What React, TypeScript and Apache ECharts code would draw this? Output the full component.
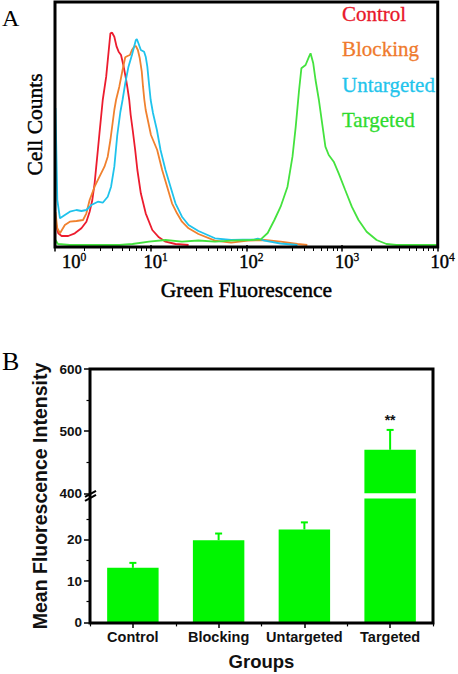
import React, { useEffect, useRef } from 'react';
import * as echarts from 'echarts';

// ---------- Panel A: flow cytometry histograms ----------
// x = log10(green fluorescence), y = relative cell counts
const controlHist: number[][] = [
  [0.005, 23], [0.034, 11.7], [0.069, 9], [0.138, 9], [0.207, 11.7], [0.276, 16.7], [0.328, 23.3],
  [0.362, 33.3], [0.39, 45], [0.414, 61.7], [0.431, 78.3], [0.448, 95], [0.465, 112], [0.499, 145],
  [0.535, 168.3], [0.562, 195], [0.579, 211.7], [0.597, 212.3], [0.62, 208.3], [0.644, 198.3],
  [0.665, 193.3], [0.69, 190], [0.714, 180], [0.741, 166.7], [0.758, 156.7], [0.776, 145],
  [0.791, 130], [0.812, 115], [0.838, 95], [0.861, 75], [0.897, 51.7], [0.948, 31.7], [1.017, 15],
  [1.086, 7.7], [1.155, 3.3], [1.259, 1], [1.396, 0],
];
const blockingHist: number[][] = [
  [0.005, 33], [0.024, 16.7], [0.052, 11.7], [0.103, 20], [0.155, 23.3], [0.224, 24], [0.293, 25],
  [0.328, 31.7], [0.362, 45], [0.414, 58.3], [0.465, 68.3], [0.517, 78.3], [0.551, 88.3], [0.579, 105],
  [0.62, 135], [0.638, 145], [0.672, 158.3], [0.706, 175], [0.734, 187.7], [0.758, 189], [0.783, 190],
  [0.804, 195], [0.827, 198.3], [0.845, 199], [0.866, 195], [0.886, 186.7], [0.907, 173.3],
  [0.92, 158.3], [0.934, 145], [0.948, 135], [1.003, 110], [1.068, 95], [1.12, 75], [1.172, 58.3],
  [1.223, 41.7], [1.275, 31.7], [1.327, 23.3], [1.396, 16.7], [1.499, 11], [1.672, 4.3], [1.841, 2.3],
  [2.017, 4.3], [2.189, 5], [2.358, 3.3], [2.534, 1], [2.637, 0],
];
const untargetedHist: number[][] = [
  [0.005, 137], [0.016, 85], [0.024, 45], [0.052, 26.7], [0.103, 30], [0.155, 33.3], [0.224, 35],
  [0.276, 34], [0.328, 35], [0.38, 40], [0.448, 43.3], [0.499, 42.3], [0.551, 48.3], [0.586, 58.3],
  [0.62, 78.3], [0.651, 110], [0.683, 133], [0.706, 145], [0.734, 161.7], [0.768, 178.3], [0.804, 190],
  [0.827, 198.3], [0.845, 205], [0.855, 206], [0.872, 201.7], [0.897, 195], [0.931, 193.3],
  [0.948, 188.3], [0.965, 178.3], [0.982, 161.7], [1.0, 145], [1.024, 132], [1.065, 115], [1.103, 95],
  [1.155, 75], [1.207, 58.3], [1.259, 41.7], [1.327, 28.3], [1.396, 20], [1.499, 14], [1.672, 6.7],
  [1.841, 5], [2.086, 5.7], [2.12, 6.5], [2.189, 4.3], [2.358, 1.5], [2.534, 0],
];
const targetedHist: number[][] = [
  [0.005, 5], [0.031, 1], [0.155, 0], [0.672, 0], [0.81, 1], [0.982, 3.3], [1.155, 5], [1.327, 3.3],
  [1.499, 4.5], [1.672, 3.3], [1.841, 4.3], [2.048, 5], [2.151, 5.7], [2.223, 12], [2.293, 25],
  [2.358, 38.3], [2.43, 58.3], [2.482, 88.3], [2.516, 118.3], [2.551, 155], [2.575, 176.7],
  [2.619, 180], [2.655, 188.3], [2.671, 191.7], [2.699, 181.7], [2.723, 165], [2.758, 145],
  [2.792, 121.7], [2.826, 98.3], [2.861, 90], [2.913, 83.3], [2.965, 71.7], [3.033, 55], [3.102, 38.3],
  [3.172, 25], [3.257, 13.3], [3.361, 5], [3.464, 1], [3.568, 0], [3.99, 0],
];
const histNames = ['Control', 'Blocking', 'Untargeted', 'Targeted'];
const histColors = ['#ec1c2e', '#f0812e', '#1fc3ec', '#44e23e'];
const legendColors = ['#e8182a', '#ef7a2c', '#22c4ec', '#2edb2e'];
const decadeExponents = [0, 1, 2, 3, 4];

// ---------- Panel B: mean fluorescence intensity ----------
const groups = ['Control', 'Blocking', 'Untargeted', 'Targeted'];
const mfi = [13.2, 19.9, 22.5, 470];
const mfiErr = [1.2, 1.6, 1.7, 32];
const significance = ['', '', '', '**'];
const lowerTicks = [0, 10, 20];
const upperTicks = [400, 500, 600];
const LOWER_MAX = 30;
const UPPER_MIN = 400;
const UPPER_MAX = 600;

// ---------- layout ----------
const SERIF = '"Liberation Serif", "Times New Roman", serif';
const SANS = '"Liberation Sans", Arial, sans-serif';
const A_LEFT = 55, A_TOP = 2, A_W = 385, A_H = 245;
const B_LEFT = 90, B_TOP = 369, B_W = 343, B_UPPER_H = 124.3, B_LOWER_TOP = 498.4, B_LOWER_H = 124;
const B_H = B_LOWER_TOP + B_LOWER_H - B_TOP + 0.6;
const BREAK_Y = (B_TOP + B_UPPER_H + B_LOWER_TOP) / 2;
const BAR_COLOR = '#00f500';

export default function App() {
  const ref = useRef<HTMLDivElement>(null);
  useEffect(() => {
    if (!ref.current) return;
    const chart = echarts.init(ref.current, undefined, { renderer: 'svg' });

    const minorTickValues: number[] = [];
    for (let n = decadeExponents[0]; n < decadeExponents[decadeExponents.length - 1]; n++) {
      for (let k = 2; k <= 9; k++) minorTickValues.push(n + Math.log10(k));
    }

    const tickLine = { color: '#000', width: 1.5 };
    const bLabel = { fontFamily: SANS, fontWeight: 'bold' as const, fontSize: 13.5, color: '#111' };
    const serifHeavy = { fontFamily: SERIF, color: '#000', textBorderColor: '#000', textBorderWidth: 0.45 };

    const errorRender = (params: any, api: any) => {
      const idx = api.value(0);
      const v = api.value(1);
      const e = api.value(2);
      const base = api.coord([idx, v]);
      const top = api.coord([idx, v + e]);
      const children: any[] = [
        { type: 'line', shape: { x1: base[0], y1: base[1], x2: top[0], y2: top[1] }, style: { stroke: BAR_COLOR, lineWidth: 2 } },
        { type: 'line', shape: { x1: top[0] - 3.5, y1: top[1], x2: top[0] + 3.5, y2: top[1] }, style: { stroke: BAR_COLOR, lineWidth: 2 } },
      ];
      const sig = significance[idx];
      if (sig) {
        children.push({
          type: 'text', x: top[0], y: top[1] - 10,
          style: { text: sig, fontFamily: SANS, fontWeight: 'bold', fontSize: 14, fill: '#111', align: 'center', verticalAlign: 'middle' },
        });
      }
      return { type: 'group', children };
    };

    const errData = mfi.map((v, i) => [i, v, mfiErr[i]]);

    const option: any = {
      animation: false,
      backgroundColor: '#fff',
      legend: {
        orient: 'vertical', left: 337, top: 3, padding: 0, icon: 'none', itemWidth: 0, itemHeight: 21, itemGap: 14.3,
        selectedMode: false,
        textStyle: { fontFamily: SERIF, fontSize: 21, lineHeight: 21 },
        data: histNames.map((n, i) => ({
          name: n,
          textStyle: { color: legendColors[i], textBorderColor: legendColors[i], textBorderWidth: 0.3 },
        })),
      },
      grid: [
        { left: A_LEFT, top: A_TOP, width: A_W, height: A_H, show: true, borderColor: '#000', borderWidth: 3, backgroundColor: 'transparent', z: 10 },
        { left: B_LEFT, top: B_TOP, width: B_W, height: B_UPPER_H },
        { left: B_LEFT, top: B_LOWER_TOP, width: B_W, height: B_LOWER_H },
        { left: B_LEFT, top: B_TOP, width: B_W, height: B_H, show: true, borderColor: '#000', borderWidth: 3, backgroundColor: 'transparent', z: 10 },
      ],
      xAxis: [
        {
          gridIndex: 0, type: 'value', position: 'bottom', min: 0, max: 4, interval: 1,
          axisLine: { show: false }, splitLine: { show: false },
          axisTick: { show: true, length: 6.5, lineStyle: tickLine },
          axisLabel: {
            margin: 4, alignMinLabel: 'left',
            formatter: (v: number) => (v === 0 ? `{f|10}{s|${v}}` : `{b|10}{s|${Math.round(v)}}`),
            rich: {
              b: { ...serifHeavy, fontSize: 18.5, lineHeight: 20, verticalAlign: 'bottom', padding: [0, 0, 0, 10] },
              f: { ...serifHeavy, fontSize: 18.5, lineHeight: 20, verticalAlign: 'bottom', padding: [0, 0, 0, 7] },
              s: { ...serifHeavy, textBorderWidth: 0.3, fontSize: 11.5, lineHeight: 12, verticalAlign: 'top' },
            },
          },
          name: 'Green Fluorescence', nameLocation: 'middle', nameGap: 32,
          nameTextStyle: { ...serifHeavy, fontSize: 21.5 },
        },
        {
          gridIndex: 0, type: 'value', position: 'bottom', min: 0, max: 4,
          axisLine: { show: false }, splitLine: { show: false }, axisLabel: { show: false },
          axisTick: { show: true, length: 4, customValues: minorTickValues, lineStyle: { color: '#000', width: 1 } },
        },
        { gridIndex: 1, type: 'category', data: groups, show: false },
        {
          gridIndex: 2, type: 'category', position: 'bottom', data: groups,
          axisLine: { show: false },
          axisTick: { show: true, alignWithLabel: true, length: 5.5, lineStyle: tickLine },
          axisLabel: { ...bLabel, fontSize: 14.5, margin: 7, interval: 0 },
          name: 'Groups', nameLocation: 'middle', nameGap: 30,
          nameTextStyle: { fontFamily: SANS, fontWeight: 'bold', fontSize: 18.5, color: '#111' },
        },
        {
          gridIndex: 2, type: 'category', position: 'bottom', data: groups,
          axisLine: { show: false }, axisLabel: { show: false },
          axisTick: { show: true, length: 4, interval: 0, lineStyle: { color: '#000', width: 1.2 } },
        },
        { gridIndex: 3, type: 'value', show: false },
      ],
      yAxis: [
        {
          gridIndex: 0, type: 'value', min: -2, max: 243,
          axisLine: { show: false }, axisTick: { show: false }, axisLabel: { show: false }, splitLine: { show: false },
          name: 'Cell Counts', nameLocation: 'middle', nameGap: 9,
          nameTextStyle: { ...serifHeavy, fontSize: 21.5 },
        },
        {
          gridIndex: 1, type: 'value', min: UPPER_MIN, max: UPPER_MAX, interval: 100,
          axisLine: { show: false }, splitLine: { show: false },
          axisTick: { show: true, length: 6, lineStyle: tickLine, customValues: upperTicks },
          minorTick: { show: true, splitNumber: 2, length: 3.5, lineStyle: { color: '#000', width: 1.2 } },
          axisLabel: { ...bLabel, margin: 8, customValues: upperTicks },
        },
        {
          gridIndex: 2, type: 'value', min: 0, max: LOWER_MAX, interval: 10,
          axisLine: { show: false }, splitLine: { show: false },
          axisTick: { show: true, length: 6, lineStyle: tickLine, customValues: lowerTicks },
          minorTick: { show: true, splitNumber: 2, length: 3.5, lineStyle: { color: '#000', width: 1.2 } },
          axisLabel: { ...bLabel, margin: 8, customValues: lowerTicks },
        },
        {
          gridIndex: 3, type: 'value',
          axisLine: { show: false }, axisTick: { show: false }, axisLabel: { show: false }, splitLine: { show: false },
          name: 'Mean Fluorescence Intensity', nameLocation: 'middle', nameGap: 40,
          nameTextStyle: { fontFamily: SANS, fontWeight: 'bold', fontSize: 19.5, color: '#111' },
        },
      ],
      series: [
        ...[controlHist, blockingHist, untargetedHist, targetedHist].map((h, i) => ({
          type: 'line', name: histNames[i], xAxisIndex: 0, yAxisIndex: 0, data: h,
          showSymbol: false, symbol: 'none', lineStyle: { color: histColors[i], width: 1.8 },
          itemStyle: { color: histColors[i] }, z: 3,
        })),
        {
          type: 'bar', xAxisIndex: 3, yAxisIndex: 2, barWidth: '60%',
          data: mfi.map((v) => Math.min(v, LOWER_MAX)), itemStyle: { color: BAR_COLOR },
        },
        {
          type: 'bar', xAxisIndex: 2, yAxisIndex: 1, barWidth: '60%',
          data: mfi.map((v) => (v > UPPER_MIN ? v : '-')), itemStyle: { color: BAR_COLOR },
        },
        {
          type: 'custom', xAxisIndex: 3, yAxisIndex: 2, renderItem: errorRender, z: 4,
          data: errData.filter((d) => d[1] + d[2] <= LOWER_MAX),
        },
        {
          type: 'custom', xAxisIndex: 2, yAxisIndex: 1, renderItem: errorRender, z: 4, clip: false,
          data: errData.filter((d) => d[1] > UPPER_MIN),
        },
      ],
      graphic: [
        { type: 'text', x: 2, y: 18, z: 20, style: { text: 'A', fontFamily: SERIF, fontSize: 24, fill: '#000', verticalAlign: 'middle' } },
        { type: 'text', x: 2, y: 361, z: 20, style: { text: 'B', fontFamily: SERIF, fontSize: 26, fill: '#000', verticalAlign: 'middle' } },
        { type: 'line', z: 20, shape: { x1: B_LEFT - 5, y1: BREAK_Y + 1, x2: B_LEFT + 6, y2: BREAK_Y - 5 }, style: { stroke: '#000', lineWidth: 2 } },
        { type: 'line', z: 20, shape: { x1: B_LEFT - 5, y1: BREAK_Y + 5, x2: B_LEFT + 6, y2: BREAK_Y - 1 }, style: { stroke: '#000', lineWidth: 2 } },
      ],
    };
    chart.setOption(option);
    return () => chart.dispose();
  }, []);
  return <div ref={ref} style={{ position: 'absolute', left: 0, top: 0, width: 458, height: 674 }} />;
}
